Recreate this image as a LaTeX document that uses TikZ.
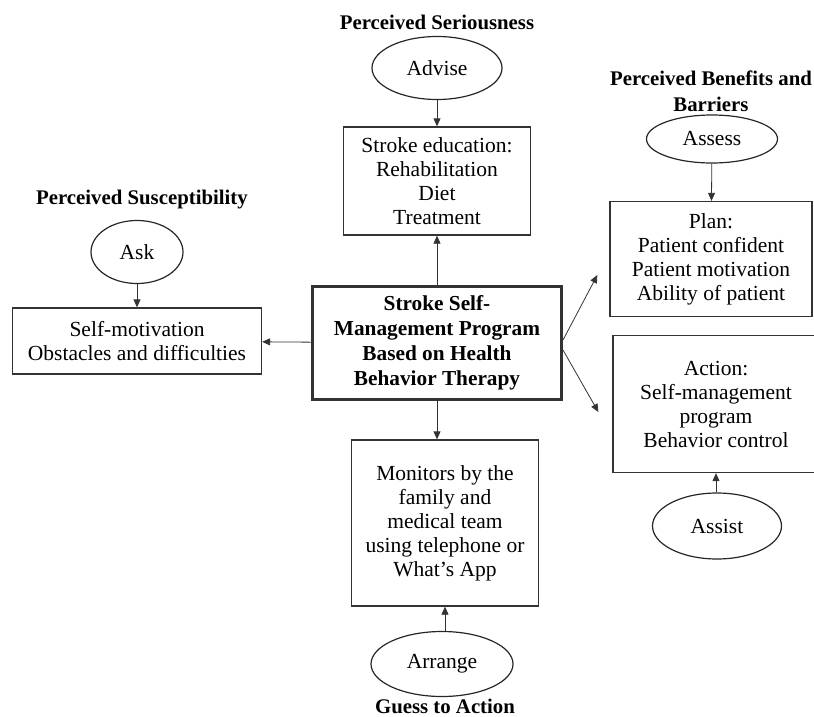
\documentclass[tikz,border=0pt]{standalone}
\usepackage{fontspec}
\setmainfont{Liberation Serif}
\usetikzlibrary{arrows.meta,positioning,shapes.geometric}
\tikzstyle{process} = [rectangle, draw=black!80, line width=1.3pt, align=center, text centered, inner sep=2pt, font=\fontsize{21.5}{24}\selectfont]
\tikzstyle{mainproc} = [process, line width=3pt, font=\fontsize{21.3}{25}\selectfont\bfseries]
\tikzstyle{ovalstep} = [ellipse, draw=black!85, line width=1.2pt, inner sep=0pt, font=\fontsize{21.5}{24}\selectfont]
\tikzstyle{heading} = [align=center, font=\fontsize{20.8}{26}\selectfont\bfseries]
\tikzstyle{arrow} = [draw=black!80, line width=0.8pt, -{Triangle[length=8pt,width=7pt]}]

\begin{document}
\begin{tikzpicture}[x=1pt, y=1pt, node distance=60pt]
\useasboundingbox (0,0) rectangle (814,-717);
\clip (0,0) rectangle (814,-717);

% centre
\node (prog) [mainproc, minimum width=249pt, minimum height=113pt] at (437,-343) {Stroke Self-\\Management Program\\Based on Health\\Behavior Therapy};

% top
\node (edu) [process, above of=prog, yshift=102pt, minimum width=187pt, minimum height=108pt] {Stroke education:\\Rehabilitation\\Diet\\Treatment};
\node (advise) [ovalstep, above of=edu, yshift=53pt, minimum width=130pt, minimum height=63pt] {Advise};
\node (ser) [heading, above of=advise, yshift=-14pt] {Perceived Seriousness};

% bottom
\node (mon) [process, below of=prog, yshift=-120pt, xshift=8pt, minimum width=187pt, minimum height=166pt] {Monitors by the\\family and\\medical team\\using telephone or\\What's App};
\node (arrange) [ovalstep, below of=mon, yshift=-81pt, xshift=-3pt, minimum width=142pt, minimum height=65pt] {Arrange};
\node (guess) [heading, below of=arrange, yshift=17.5pt, xshift=3pt] {Guess to Action};

% left
\node (motiv) [process, left of=prog, xshift=-240pt, yshift=2pt, minimum width=249pt, minimum height=66pt] {Self-motivation\\Obstacles and difficulties};
\node (ask) [ovalstep, above of=motiv, yshift=29pt, minimum width=92pt, minimum height=63pt] {Ask};
\node (susc) [heading, above of=ask, yshift=-8pt, xshift=5pt] {Perceived Susceptibility};

% right
\node (plan) [process, right of=prog, xshift=214pt, yshift=84pt, minimum width=202pt, minimum height=115pt] {Plan:\\Patient confident\\Patient motivation\\Ability of patient};
\node (assess) [ovalstep, above of=plan, yshift=60pt, xshift=1pt, minimum width=131pt, minimum height=48pt] {Assess};
\node (benef) [heading, above of=assess, yshift=-12pt, xshift=-1pt] {Perceived Benefits and\\Barriers};
\node (action) [process, right of=prog, xshift=219pt, yshift=-61pt, minimum width=206pt, minimum height=137pt] {Action:\\Self-management\\program\\Behavior control};
\node (assist) [ovalstep, below of=action, yshift=-62pt, xshift=1pt, minimum width=129pt, minimum height=66pt] {Assist};

\draw [arrow] (advise) -- (edu);
\draw [arrow] (prog) -- (edu);
\draw [arrow] (ask) -- (motiv);
\draw [arrow] (prog) -- (motiv);
\draw [arrow] (prog.south) -- (prog.south |- mon.north);
\draw [arrow] (arrange.north -| mon.north) -- (mon);
\draw [arrow] (assess) -- (plan);
\draw [arrow] (assist.north -| action.south) -- (action);
\draw [arrow] ([yshift=3pt]prog.east) -- ([xshift=-12pt,yshift=-16pt]plan.west);
\draw [arrow] ([yshift=-7pt]prog.east) -- ([xshift=-14pt,yshift=-8pt]action.west);
\end{tikzpicture}
\end{document}
